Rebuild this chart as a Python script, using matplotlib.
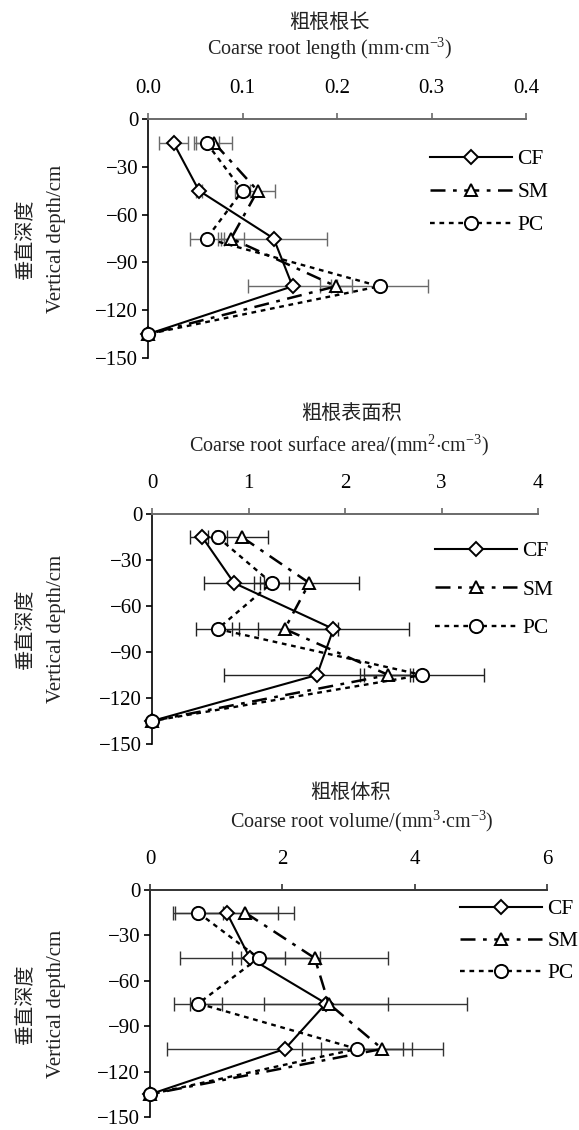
import matplotlib
matplotlib.use("Agg")
import matplotlib.pyplot as plt

plt.rcParams['font.family'] = ['Liberation Serif', 'Noto Sans CJK SC']
plt.rcParams['mathtext.fontset'] = 'custom'
plt.rcParams['mathtext.rm'] = 'Liberation Serif'
plt.rcParams['mathtext.it'] = 'Liberation Serif:italic'
plt.rcParams['axes.unicode_minus'] = True

# ---------------- data ----------------
depth = [-15, -45, -75, -105, -135]
series = ['CF', 'SM', 'PC']

# Coarse root length (mm·cm-3)
len_cf = [0.027, 0.054, 0.133, 0.153, 0.0]
len_sm = [0.070, 0.116, 0.088, 0.199, 0.0]
len_pc = [0.062, 0.100, 0.062, 0.245, 0.0]
len_cf_err = [0.015, 0.003, 0.056, 0.047, 0.0]
len_sm_err = [0.019, 0.018, 0.014, 0.017, 0.0]
len_pc_err = [0.013, 0.008, 0.018, 0.051, 0.0]

# Coarse root surface area (mm2·cm-3)
area_cf = [0.52, 0.85, 1.88, 1.71, 0.0]
area_sm = [0.93, 1.63, 1.375, 2.45, 0.0]
area_pc = [0.68, 1.24, 0.68, 2.80, 0.0]
area_cf_err = [0.13, 0.31, 0.78, 0.96, 0.0]
area_sm_err = [0.27, 0.51, 0.55, 0.25, 0.0]
area_pc_err = [0.10, 0.18, 0.22, 0.64, 0.0]

# Coarse root volume (mm3·cm-3)
vol_cf = [1.16, 1.51, 2.66, 2.04, 0.0]
vol_sm = [1.44, 2.49, 2.70, 3.51, 0.0]
vol_pc = [0.73, 1.64, 0.73, 3.13, 0.0]
vol_cf_err = [0.78, 1.06, 0.94, 1.78, 0.0]
vol_sm_err = [0.74, 1.11, 2.09, 0.92, 0.0]
vol_pc_err = [0.38, 0.40, 0.36, 0.83, 0.0]

yticks = [0, -30, -60, -90, -120, -150]
len_ticks = [0.0, 0.1, 0.2, 0.3, 0.4]
len_ticklabels = ['0.0', '0.1', '0.2', '0.3', '0.4']
area_ticks = [0, 1, 2, 3, 4]
area_ticklabels = ['0', '1', '2', '3', '4']
vol_ticks = [0, 2, 4, 6]
vol_ticklabels = ['0', '2', '4', '6']

titles_cn = ['粗根根长', '粗根表面积', '粗根体积']
titles_en = [r'Coarse root length (mm$\cdot$cm$^{-3}$)',
             r'Coarse root surface area/(mm$^{2}$$\cdot$cm$^{-3}$)',
             r'Coarse root volume/(mm$^{3}$$\cdot$cm$^{-3}$)']
ylabel_cn = '垂直深度'
ylabel_en = 'Vertical depth/cm'

# ---------------- figure ----------------
W, H = 579, 1130
fig = plt.figure(figsize=(W / 100, H / 100), dpi=100)

def fx(px):
    return px / W

def fy(py):
    return 1 - py / H

# panel geometry in pixels: left, right, top, bottom
geoms = [(148, 526, 119, 358), (152, 538, 514, 744), (150, 547, 890, 1117)]
title_pos = [((329, 22), (330, 49)), ((351, 413), (339, 445)), ((350, 793), (362, 821))]
legend_pos = [(430, 149, 0.60), (435, 541, 0.86), (460, 899, 0.56)]
spine_col = ['#6a6a6a', '#6a6a6a', '#333333']
err_col = ['#6a6a6a', '#222222', '#333333']

data = [
    (len_cf, len_sm, len_pc, len_cf_err, len_sm_err, len_pc_err, len_ticks, len_ticklabels),
    (area_cf, area_sm, area_pc, area_cf_err, area_sm_err, area_pc_err, area_ticks, area_ticklabels),
    (vol_cf, vol_sm, vol_pc, vol_cf_err, vol_sm_err, vol_pc_err, vol_ticks, vol_ticklabels),
]

styles = {
    'CF': dict(ls='-', marker='D', ms=7, lw=1.5),
    'SM': dict(ls=(0, (6, 3, 1.5, 3)), marker='^', ms=9, lw=1.8),
    'PC': dict(ls=(0, (2, 2)), marker='o', ms=9.5, lw=1.7),
}

for i, (cf, sm, pc, cfe, sme, pce, xt, xtl) in enumerate(data):
    l, r, t, b = geoms[i]
    ax = fig.add_axes([fx(l), fy(b), fx(r - l), (b - t) / H])
    vals = {'CF': (cf, cfe), 'SM': (sm, sme), 'PC': (pc, pce)}
    for s in series:
        v, e = vals[s]
        ax.errorbar(v, depth, xerr=e, fmt='none', ecolor=err_col[i],
                    elinewidth=1.0, capsize=5, capthick=1.0, zorder=2, clip_on=False)
    for s in series:
        v, e = vals[s]
        st = styles[s]
        ax.plot(v, depth, color='black', linestyle=st['ls'], lw=st['lw'],
                marker=st['marker'], ms=st['ms'], mfc='white', mec='black',
                mew=1.4, label=s, zorder=3, clip_on=False)
    ax.set_xlim(xt[0], xt[-1])
    ax.set_ylim(-150, 0)
    ax.set_xticks(xt)
    ax.set_xticklabels(xtl)
    ax.set_yticks(yticks)
    ax.xaxis.tick_top()
    ax.spines['right'].set_visible(False)
    ax.spines['bottom'].set_visible(False)
    ax.spines['top'].set_color(spine_col[i])
    ax.spines['top'].set_linewidth(1.4)
    ax.spines['left'].set_color('black')
    ax.spines['left'].set_linewidth(1.2)
    ax.tick_params(axis='x', which='both', direction='out', length=4, width=1.2,
                   color=spine_col[i], pad=11, labelsize=15, top=True, bottom=False)
    ax.tick_params(axis='y', direction='out', length=4, width=1.2, pad=3, labelsize=15)
    ax.set_facecolor('none')

    (cx, cy), (ex, ey) = title_pos[i]
    fig.text(fx(cx), fy(cy), titles_cn[i], ha='center', va='center', fontsize=14.5,
             family=['Noto Sans CJK SC'], color='#222222')
    fig.text(fx(ex), fy(ey), titles_en[i], ha='center', va='center', fontsize=14.5,
             color='#222222')

    ymid = (t + b) / 2
    fig.text(fx(25), fy(ymid), ylabel_cn, rotation=90, ha='center', va='center',
             fontsize=14.5, family=['Noto Sans CJK SC'], color='#222222')
    fig.text(fx(57), fy(ymid), ylabel_en, rotation=90, ha='center', va='center',
             fontsize=15, color='#222222')

    lx, ly, lsp = legend_pos[i]
    ax.legend(loc='upper left', bbox_to_anchor=(fx(lx), fy(ly)),
              bbox_transform=fig.transFigure, frameon=False, fontsize=15.5,
              handlelength=3.8, handletextpad=0.25, labelspacing=lsp,
              borderpad=0, borderaxespad=0)

fig.savefig('out.png', dpi=100)
